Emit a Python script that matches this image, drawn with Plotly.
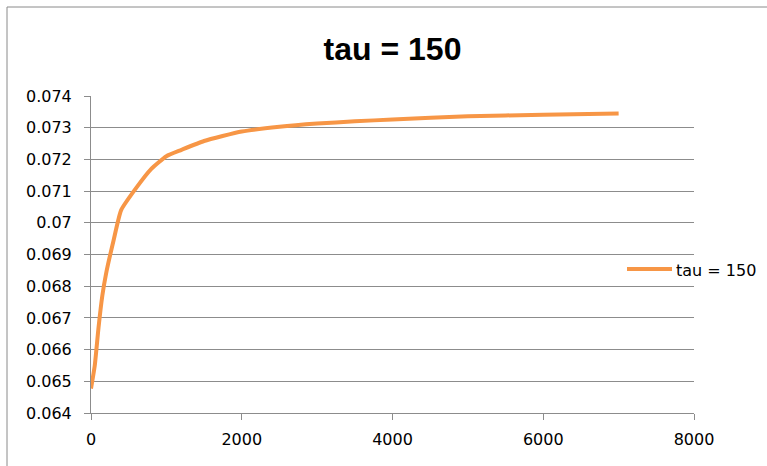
import plotly.graph_objects as go

# Series: tau = 150
x_vals = [0, 50, 100, 150, 200, 300, 400, 600, 800, 1000, 1200, 1500, 2000, 2500,
          3000, 3500, 4000, 5000, 6000, 7000]
y_vals = [0.06477, 0.0655, 0.0667, 0.0677, 0.0684, 0.06945, 0.0704, 0.0711, 0.0717, 0.0721,
          0.0723, 0.07258, 0.07288, 0.07303, 0.07313, 0.0732, 0.07326, 0.07336, 0.07341, 0.07345]
series_name = "tau = 150"
title_text = "tau = 150"

y_tickvals = [0.064, 0.065, 0.066, 0.067, 0.068, 0.069, 0.07, 0.071, 0.072, 0.073, 0.074]
y_ticktext = ["0.064", "0.065", "0.066", "0.067", "0.068", "0.069", "0.07", "0.071", "0.072", "0.073", "0.074"]
x_tickvals = [0, 2000, 4000, 6000, 8000]

W, H = 767, 466
L, R, T, B = 91, 73, 96, 53
pw, ph = W - L - R, H - T - B

def px_x(p):
    return (p - L) / pw

def px_y(p):
    return (H - B - p) / ph

font_family = "DejaVu Sans, Verdana, sans-serif"
title_family = "Liberation Sans, Arial, sans-serif"
grid_color = "#8c8c8c"
line_color = "#F79646"

fig = go.Figure()
fig.add_trace(go.Scatter(
    x=x_vals, y=y_vals, mode="lines", name=series_name, showlegend=False,
    line=dict(color=line_color, width=4, shape="spline", smoothing=0.5),
))

fig.update_layout(
    width=W, height=H,
    margin=dict(l=L, r=R, t=T, b=B),
    paper_bgcolor="white", plot_bgcolor="white",
    title=dict(text="<b>" + title_text + "</b>", xref="paper", x=0.5, xanchor="center",
               yref="container", y=1 - 49 / H, yanchor="middle",
               font=dict(family=title_family, size=32, color="black")),
    xaxis=dict(range=[0, 8000], tickvals=x_tickvals, showgrid=False, zeroline=False,
               showline=True, linecolor=grid_color, linewidth=1,
               ticks="outside", ticklen=6, tickcolor=grid_color, ticklabelstandoff=6,
               tickfont=dict(family=font_family, size=16, color="black")),
    yaxis=dict(range=[0.064, 0.074], tickvals=y_tickvals, ticktext=y_ticktext,
               showgrid=True, gridcolor=grid_color, gridwidth=1, zeroline=False,
               showline=True, linecolor=grid_color, linewidth=1,
               ticks="outside", ticklen=6, tickcolor=grid_color, ticklabelstandoff=9,
               tickfont=dict(family=font_family, size=16, color="black")),
    shapes=[
        # chart frame
        dict(type="rect", xref="paper", yref="paper",
             x0=px_x(7), x1=px_x(775), y0=px_y(475), y1=px_y(7),
             line=dict(color="#8a8a8a", width=1), layer="below"),
        # legend key
        dict(type="line", xref="paper", yref="paper",
             x0=px_x(627), x1=px_x(672), y0=px_y(269), y1=px_y(269),
             line=dict(color=line_color, width=4)),
    ],
    annotations=[
        dict(text=series_name, xref="paper", yref="paper", x=px_x(674), y=px_y(270),
             xanchor="left", yanchor="middle", showarrow=False,
             font=dict(family=font_family, size=16, color="black")),
    ],
)

fig.write_html("out.html")
